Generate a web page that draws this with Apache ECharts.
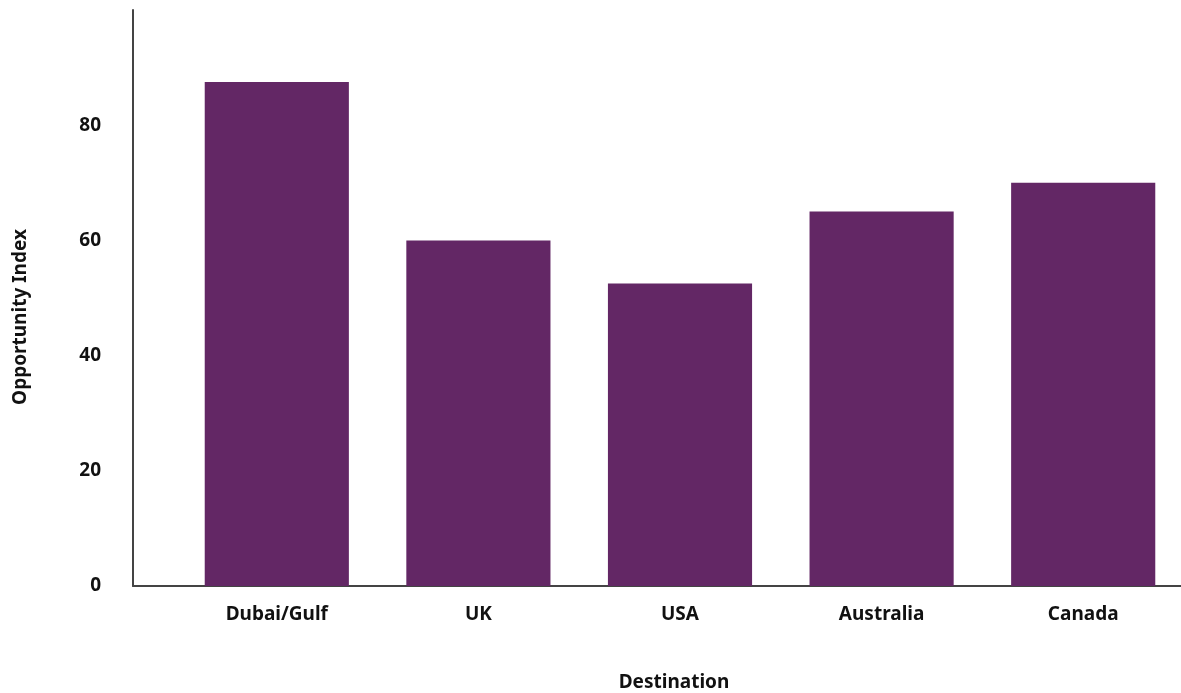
<!DOCTYPE html>
<html>
<head>
<meta charset="utf-8">
<script src="https://cdn.jsdelivr.net/npm/echarts@6/dist/echarts.min.js"></script>
<style>
html,body{margin:0;padding:0;background:#fff;}
#chart{width:1181px;height:693px;}
</style>
</head>
<body>
<div id="chart"></div>
<script>
const categories = ['Dubai/Gulf', 'UK', 'USA', 'Australia', 'Canada'];
const values = [87.5, 60, 52.5, 65, 70];
const yTicks = [0, 20, 40, 60, 80];

const FONT = '"Noto Sans", "Open Sans", sans-serif';
const axisColor = '#444444';
const barColor = '#632765';

const chart = echarts.init(document.getElementById('chart'), null, {renderer: 'canvas'});
chart.setOption({
  animation: false,
  backgroundColor: '#ffffff',
  grid: [
    {left: 133, right: 0, top: 10, bottom: 107, outerBoundsMode: 'none', containLabel: false},
    {left: 176, right: -3, top: 10, bottom: 107, outerBoundsMode: 'none', containLabel: false}
  ],
  xAxis: [
    {
      gridIndex: 0, type: 'value', min: 0, max: 1,
      axisLine: {show: true, onZero: false, lineStyle: {color: axisColor, width: 2}},
      axisTick: {show: false}, axisLabel: {show: false}, splitLine: {show: false},
      name: 'Destination', nameLocation: 'middle', nameGap: 87,
      nameTextStyle: {fontFamily: FONT, fontWeight: 'bold', fontSize: 19, color: '#111', padding: [0, 0, 0, 34]}
    },
    {
      gridIndex: 1, type: 'category', data: categories,
      axisLine: {show: false}, axisTick: {show: false}, splitLine: {show: false},
      axisLabel: {fontFamily: FONT, fontWeight: 'bold', fontSize: 19, color: '#111', margin: 19}
    }
  ],
  yAxis: [
    {
      gridIndex: 0, type: 'value', min: 0, max: 100, interval: 20,
      axisLine: {show: true, lineStyle: {color: axisColor, width: 2}},
      axisTick: {show: false}, splitLine: {show: false},
      axisLabel: {
        fontFamily: FONT, fontWeight: 'bold', fontSize: 19, color: '#111', margin: 32,
        formatter: function (v) { return yTicks.indexOf(v) >= 0 ? String(v) : ''; }
      },
      name: 'Opportunity Index', nameLocation: 'middle', nameGap: 103, nameRotate: 90,
      nameTextStyle: {fontFamily: FONT, fontWeight: 'bold', fontSize: 19, color: '#111', padding: [0, 38, 0, 0]}
    },
    {
      gridIndex: 1, type: 'value', min: 0, max: 100, interval: 20, show: false
    }
  ],
  series: [{
    type: 'bar',
    xAxisIndex: 1, yAxisIndex: 1,
    data: values,
    barWidth: '71.5%',
    itemStyle: {color: barColor}
  }]
});
</script>
</body>
</html>
